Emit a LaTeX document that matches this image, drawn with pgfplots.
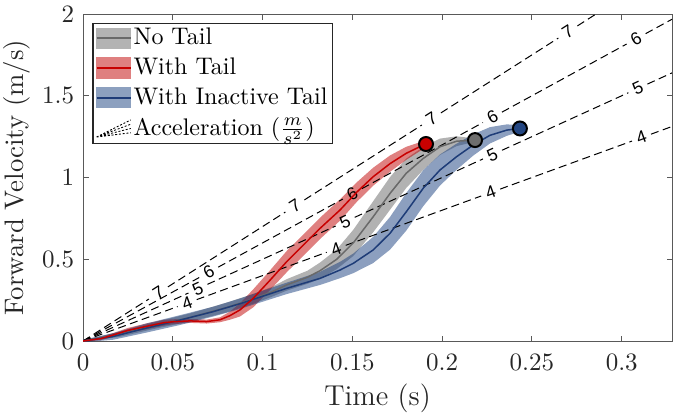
\documentclass[border=0pt]{standalone}
\usepackage{fontspec}
\newfontfamily\helv{Liberation Sans}
\usepackage{pgfplots}
\pgfplotsset{compat=1.18}
\usepgfplotslibrary{fillbetween}

\definecolor{redline}{RGB}{200,0,0}
\definecolor{redbase}{RGB}{191,1,1}
\definecolor{redpatch}{RGB}{223,128,128}
\definecolor{grayline}{RGB}{105,105,105}
\definecolor{graybase}{RGB}{102,102,102}
\definecolor{graypatch}{RGB}{179,179,179}
\definecolor{blueline}{RGB}{30,60,120}
\definecolor{bluebase}{RGB}{25,64,127}
\definecolor{bluepatch}{RGB}{140,160,191}
\definecolor{bluemark}{RGB}{35,70,130}
\definecolor{graymark}{RGB}{110,110,110}

\begin{document}
\begin{tikzpicture}
\begin{axis}[
  scale only axis, width=235.6pt, height=130.8pt,
  xmin=0, xmax=0.328, ymin=0, ymax=2,
  xtick={0,0.05,0.1,0.15,0.2,0.25,0.3},
  xticklabels={0,0.05,0.1,0.15,0.2,0.25,0.3},
  ytick={0,0.5,1,1.5,2},
  yticklabels={0,0.5,1,1.5,2},
  tick align=inside, tick pos=both,
  xticklabel pos=lower, yticklabel pos=left,
  major tick length=2.2pt,
  axis line style={black!65, line width=0.4pt},
  tick style={black!65, line width=0.4pt},
  tick label style={font=\fontsize{10}{12}\selectfont, text=black!85},
  xticklabel style={yshift=-1.5pt},
  xlabel={Time (s)}, ylabel={Forward Velocity (m/s)},
  xlabel style={font=\fontsize{11.5}{14}\selectfont, text=black!85, at={(axis description cs:0.5,-0.1957)}, anchor=base},
  ylabel style={font=\fontsize{10.7}{13}\selectfont, text=black!85, at={(axis description cs:-0.112,0.5)}, anchor=center},
  unbounded coords=jump,
  legend style={at={(axis description cs:0,1)}, anchor=north west,
    xshift=3.7pt, yshift=-3.5pt, draw=black!85, line width=0.5pt, fill=white,
    font=\fontsize{9.6}{11}\selectfont, inner xsep=1.2pt, inner ysep=1.0pt,
    row sep=2.2pt, nodes={inner sep=0.8pt}},
  legend cell align=left,
]
\coordinate (sw) at (rel axis cs:0,0);
\coordinate (ne) at (rel axis cs:1,1);

% legend entries
\addlegendimage{legend image code/.code={\fill[graypatch] (0cm,-0.14cm) rectangle (0.48cm,0.14cm); \draw[grayline,line width=0.6pt] (0cm,0cm)--(0.48cm,0cm);}}
\addlegendentry{No Tail}
\addlegendimage{legend image code/.code={\fill[redpatch] (0cm,-0.14cm) rectangle (0.48cm,0.14cm); \draw[redline,line width=0.6pt] (0cm,0cm)--(0.48cm,0cm);}}
\addlegendentry{With Tail}
\addlegendimage{legend image code/.code={\fill[bluepatch] (0cm,-0.14cm) rectangle (0.48cm,0.14cm); \draw[blueline,line width=0.6pt] (0cm,0cm)--(0.48cm,0cm);}}
\addlegendentry{With Inactive Tail}
\addlegendimage{legend image code/.code={\draw[black, line width=0.35pt, dash pattern=on 0.8pt off 0.7pt] (0cm,-0.12cm) -- (0.48cm,0.12cm) (0cm,-0.12cm) -- (0.48cm,0.06cm) (0cm,-0.12cm) -- (0.48cm,0.0cm) (0cm,-0.12cm) -- (0.48cm,-0.06cm);}}
\addlegendentry{Acceleration ($\frac{m}{s^2}$)}

% ---------- bands ----------
% No Tail (gray)
\addplot[draw=none, forget plot, name path=gU] coordinates {
(0,0.005) (0.02,0.055) (0.04,0.115) (0.06,0.17) (0.08,0.235) (0.0948,0.288) (0.105,0.33) (0.1134,0.378) (0.125,0.43) (0.132,0.48) (0.1413,0.56) (0.1505,0.68) (0.1616,0.855) (0.171,1.003) (0.180,1.116) (0.1895,1.187) (0.1988,1.238) (0.208,1.252) (0.2183,1.239)};
\addplot[draw=none, forget plot, name path=gL] coordinates {
(0,-0.005) (0.02,0.025) (0.04,0.075) (0.06,0.12) (0.08,0.175) (0.0948,0.228) (0.105,0.27) (0.1134,0.308) (0.125,0.35) (0.132,0.38) (0.1413,0.44) (0.1505,0.52) (0.1616,0.665) (0.171,0.803) (0.180,0.936) (0.1895,1.047) (0.1988,1.138) (0.208,1.192) (0.2183,1.219)};
\addplot[graybase, fill opacity=0.5, forget plot] fill between[of=gU and gL];

% With Tail (red)
\addplot[draw=none, forget plot, name path=rU] coordinates {
(0,0.005) (0.01,0.025) (0.0169,0.049) (0.025,0.08) (0.0355,0.108) (0.045,0.13) (0.0503,0.133) (0.0596,0.135) (0.0689,0.131) (0.0763,0.145) (0.0818,0.18) (0.0874,0.23) (0.0948,0.316) (0.104,0.43) (0.1134,0.55) (0.123,0.655) (0.132,0.754) (0.1431,0.866) (0.1524,0.97) (0.1616,1.06) (0.171,1.135) (0.180,1.188) (0.186,1.21) (0.191,1.225)};
\addplot[draw=none, forget plot, name path=rL] coordinates {
(0,-0.005) (0.01,0.005) (0.0169,0.025) (0.025,0.05) (0.0355,0.072) (0.045,0.094) (0.0503,0.103) (0.0596,0.111) (0.0689,0.107) (0.0763,0.115) (0.0818,0.13) (0.0874,0.15) (0.0948,0.206) (0.104,0.31) (0.1134,0.42) (0.123,0.525) (0.132,0.624) (0.1431,0.736) (0.1524,0.85) (0.1616,0.95) (0.171,1.035) (0.180,1.108) (0.186,1.15) (0.191,1.185)};
\addplot[redbase, fill opacity=0.5, forget plot] fill between[of=rU and rL];

% With Inactive Tail (blue)
\addplot[draw=none, forget plot, name path=bU] coordinates {
(0,0.008) (0.0169,0.048) (0.0355,0.108) (0.054,0.158) (0.0726,0.21) (0.0874,0.26) (0.0948,0.288) (0.1134,0.357) (0.132,0.423) (0.1431,0.484) (0.1505,0.535) (0.1616,0.637) (0.171,0.759) (0.180,0.905) (0.1895,1.045) (0.1988,1.141) (0.208,1.207) (0.2173,1.264) (0.2266,1.308) (0.236,1.325) (0.2433,1.32)};
\addplot[draw=none, forget plot, name path=bL] coordinates {
(0,-0.008) (0.0169,0.008) (0.0355,0.052) (0.054,0.098) (0.0726,0.15) (0.0874,0.196) (0.0948,0.222) (0.1134,0.287) (0.132,0.343) (0.1431,0.384) (0.1505,0.415) (0.1616,0.477) (0.171,0.559) (0.180,0.675) (0.1895,0.825) (0.1988,0.951) (0.208,1.047) (0.2173,1.134) (0.2266,1.208) (0.236,1.255) (0.2433,1.28)};
\addplot[bluebase, fill opacity=0.5, forget plot] fill between[of=bU and bL];

% ---------- acceleration lines (a = v/t) ----------
\addplot[black, line width=0.4pt, dash pattern=on 3.2pt off 1.8pt, forget plot] coordinates {
(0,0) (0.0367,0.2569) (0.042,nan) (0.0473,0.3311) (0.1127,0.7889) (0.118,nan) (0.1233,0.8631) (0.1887,1.3209) (0.194,nan) (0.1993,1.3951) (0.2647,1.8529) (0.27,nan) (0.2753,1.9271) (0.2857,2.0)};
\addplot[black, line width=0.4pt, dash pattern=on 3.2pt off 1.8pt, forget plot] coordinates {
(0,0) (0.0647,0.3882) (0.07,nan) (0.0753,0.4518) (0.1447,0.8682) (0.15,nan) (0.1553,0.9318) (0.2227,1.3362) (0.228,nan) (0.2333,1.3998) (0.3027,1.8162) (0.308,nan) (0.3133,1.8798) (0.328,1.968)};
\addplot[black, line width=0.4pt, dash pattern=on 3.2pt off 1.8pt, forget plot] coordinates {
(0,0) (0.0587,0.2935) (0.064,nan) (0.0693,0.3465) (0.1407,0.7035) (0.146,nan) (0.1513,0.7565) (0.2227,1.1135) (0.228,nan) (0.2333,1.1665) (0.3037,1.5185) (0.309,nan) (0.3143,1.5715) (0.328,1.64)};
\addplot[black, line width=0.4pt, dash pattern=on 3.2pt off 1.8pt, forget plot] coordinates {
(0,0) (0.0527,0.2108) (0.058,nan) (0.0633,0.2532) (0.1357,0.5428) (0.141,nan) (0.1463,0.5852) (0.2217,0.8868) (0.227,nan) (0.2323,0.9292) (0.3057,1.2228) (0.311,nan) (0.3163,1.2652) (0.328,1.312)};

\tikzset{clab/.style={font=\helv\fontsize{7}{8}\selectfont, inner sep=0pt, text=black}}
\node[clab, rotate=32.5] at (axis cs:0.042,0.294) {7};
\node[clab, rotate=32.5] at (axis cs:0.118,0.826) {7};
\node[clab, rotate=32.5] at (axis cs:0.194,1.358) {7};
\node[clab, rotate=32.5] at (axis cs:0.270,1.890) {7};
\node[clab, rotate=28.6] at (axis cs:0.070,0.420) {6};
\node[clab, rotate=28.6] at (axis cs:0.150,0.900) {6};
\node[clab, rotate=28.6] at (axis cs:0.228,1.368) {6};
\node[clab, rotate=28.6] at (axis cs:0.308,1.848) {6};
\node[clab, rotate=24.5] at (axis cs:0.064,0.320) {5};
\node[clab, rotate=24.5] at (axis cs:0.146,0.730) {5};
\node[clab, rotate=24.5] at (axis cs:0.228,1.140) {5};
\node[clab, rotate=24.5] at (axis cs:0.309,1.545) {5};
\node[clab, rotate=20.0] at (axis cs:0.058,0.232) {4};
\node[clab, rotate=20.0] at (axis cs:0.141,0.564) {4};
\node[clab, rotate=20.0] at (axis cs:0.227,0.908) {4};
\node[clab, rotate=20.0] at (axis cs:0.311,1.244) {4};

% ---------- mean curves ----------
\addplot[grayline, line width=0.6pt, forget plot] coordinates {
(0,0) (0.02,0.04) (0.04,0.095) (0.06,0.145) (0.08,0.205) (0.0948,0.258) (0.105,0.30) (0.1134,0.343) (0.125,0.39) (0.132,0.43) (0.1413,0.50) (0.1505,0.60) (0.1616,0.76) (0.171,0.903) (0.180,1.026) (0.1895,1.117) (0.1988,1.188) (0.208,1.222) (0.2183,1.229)};
\addplot[blueline, line width=0.6pt, forget plot] coordinates {
(0,0) (0.0169,0.028) (0.0355,0.08) (0.054,0.128) (0.0726,0.18) (0.0874,0.228) (0.0948,0.255) (0.1134,0.322) (0.132,0.383) (0.1431,0.434) (0.1505,0.475) (0.1616,0.557) (0.171,0.659) (0.180,0.79) (0.1895,0.935) (0.1988,1.046) (0.208,1.127) (0.2173,1.199) (0.2266,1.258) (0.236,1.29) (0.2433,1.30)};
\addplot[redline, line width=0.6pt, forget plot] coordinates {
(0,0) (0.01,0.015) (0.0169,0.037) (0.025,0.065) (0.0355,0.09) (0.045,0.112) (0.0503,0.118) (0.0596,0.123) (0.0689,0.119) (0.0763,0.13) (0.0818,0.155) (0.0874,0.19) (0.0948,0.261) (0.104,0.37) (0.1134,0.485) (0.123,0.59) (0.132,0.689) (0.1431,0.801) (0.1524,0.91) (0.1616,1.005) (0.171,1.085) (0.180,1.148) (0.186,1.18) (0.191,1.205)};

% ---------- end markers ----------
\addplot[only marks, mark=*, mark size=2.8pt, mark options={fill=redline, draw=black, line width=0.8pt}, forget plot] coordinates {(0.191,1.205)};
\addplot[only marks, mark=*, mark size=2.8pt, mark options={fill=graymark, draw=black, line width=0.8pt}, forget plot] coordinates {(0.2183,1.229)};
\addplot[only marks, mark=*, mark size=2.8pt, mark options={fill=bluemark, draw=black, line width=0.8pt}, forget plot] coordinates {(0.2433,1.30)};
\end{axis}
\pgfresetboundingbox
\path ([xshift=-33.2pt,yshift=-30.4pt]sw) rectangle ([xshift=0.4pt,yshift=5.6pt]ne);
\end{tikzpicture}
\end{document}
